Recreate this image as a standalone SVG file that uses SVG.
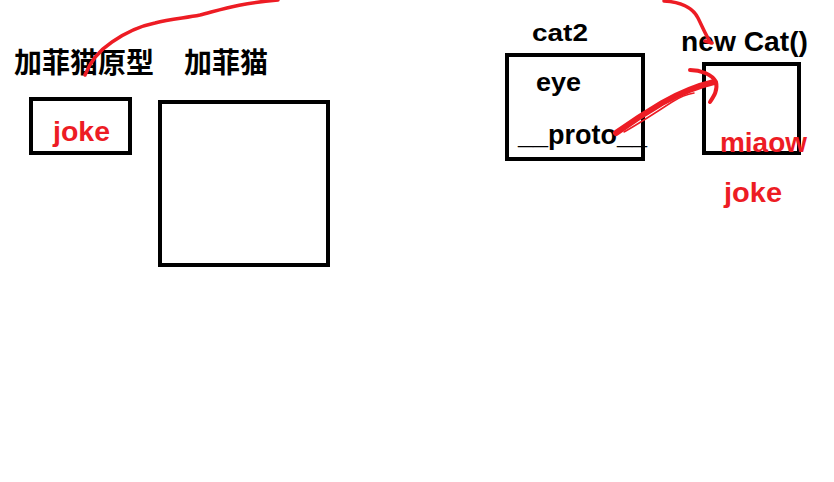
<svg xmlns="http://www.w3.org/2000/svg" width="834" height="482" viewBox="0 0 834 482">
<style>
.box{fill:none;stroke:#000;stroke-width:4}
.lbl{font-family:"Liberation Sans",Arial,sans-serif;font-weight:bold;fill:#000}
.cjk{font-family:"Noto Sans CJK SC","Liberation Sans",sans-serif;font-weight:bold;font-size:28px;fill:#000}
.red{font-family:"Liberation Sans",Arial,sans-serif;font-weight:bold;fill:#ed1c24}
.ink{fill:none;stroke:#ed1c24;stroke-linecap:round;stroke-linejoin:round}
</style>
<rect width="834" height="482" fill="#fff"/>
<g id="garfield-prototype">
<text class="cjk" x="14" y="73" textLength="140" lengthAdjust="spacingAndGlyphs">加菲猫原型</text>
<rect class="box" x="31" y="99" width="99" height="54"/>
<text class="red" x="53" y="141" font-size="27" textLength="57" lengthAdjust="spacingAndGlyphs">joke</text>
</g>
<g id="garfield">
<text class="cjk" x="184" y="73" textLength="84" lengthAdjust="spacingAndGlyphs">加菲猫</text>
<rect class="box" x="160" y="102" width="168" height="163"/>
</g>
<g id="cat2">
<text class="lbl" x="532" y="41" font-size="23" textLength="56" lengthAdjust="spacingAndGlyphs">cat2</text>
<rect class="box" x="507" y="55" width="136" height="104"/>
<text class="lbl" x="536" y="91" font-size="26" textLength="45" lengthAdjust="spacingAndGlyphs">eye</text>
<text class="lbl" x="518" y="144" font-size="27" textLength="129" lengthAdjust="spacingAndGlyphs">__proto__</text>
</g>
<g id="new-cat">
<text class="lbl" x="681" y="51" font-size="27" textLength="127" lengthAdjust="spacingAndGlyphs">new Cat()</text>
<rect class="box" x="704" y="64" width="95" height="89"/>
<text class="red" x="720" y="152" font-size="28" textLength="87" lengthAdjust="spacingAndGlyphs">miaow</text>
<text class="red" x="724" y="202" font-size="28" textLength="58" lengthAdjust="spacingAndGlyphs">joke</text>
</g>
<g id="connectors">
<path class="ink" stroke-width="3.5" d="M85,75 C90,62 100,50 112,42 C125,33 140,26 155,23 C170,19 185,18 200,15 C220,10 240,3 278,0"/>
<path class="ink" stroke-width="3.5" d="M664,1 C680,2 692,6 698,18 C703,28 706,36 711,43 M705,41 L712,43"/>
<path class="ink" stroke-width="6" d="M616,133 C630,123 645,113 662,103 C680,93 697,86 714,82"/>
<path class="ink" stroke-width="1.5" d="M624,132 C640,123 655,113 672,102 C680,97 688,94 694,93"/>
<path class="ink" stroke-width="4" d="M690,70 C700,70 712,74 716,82 C718,90 714,96 710,102"/>
</g>
</svg>
